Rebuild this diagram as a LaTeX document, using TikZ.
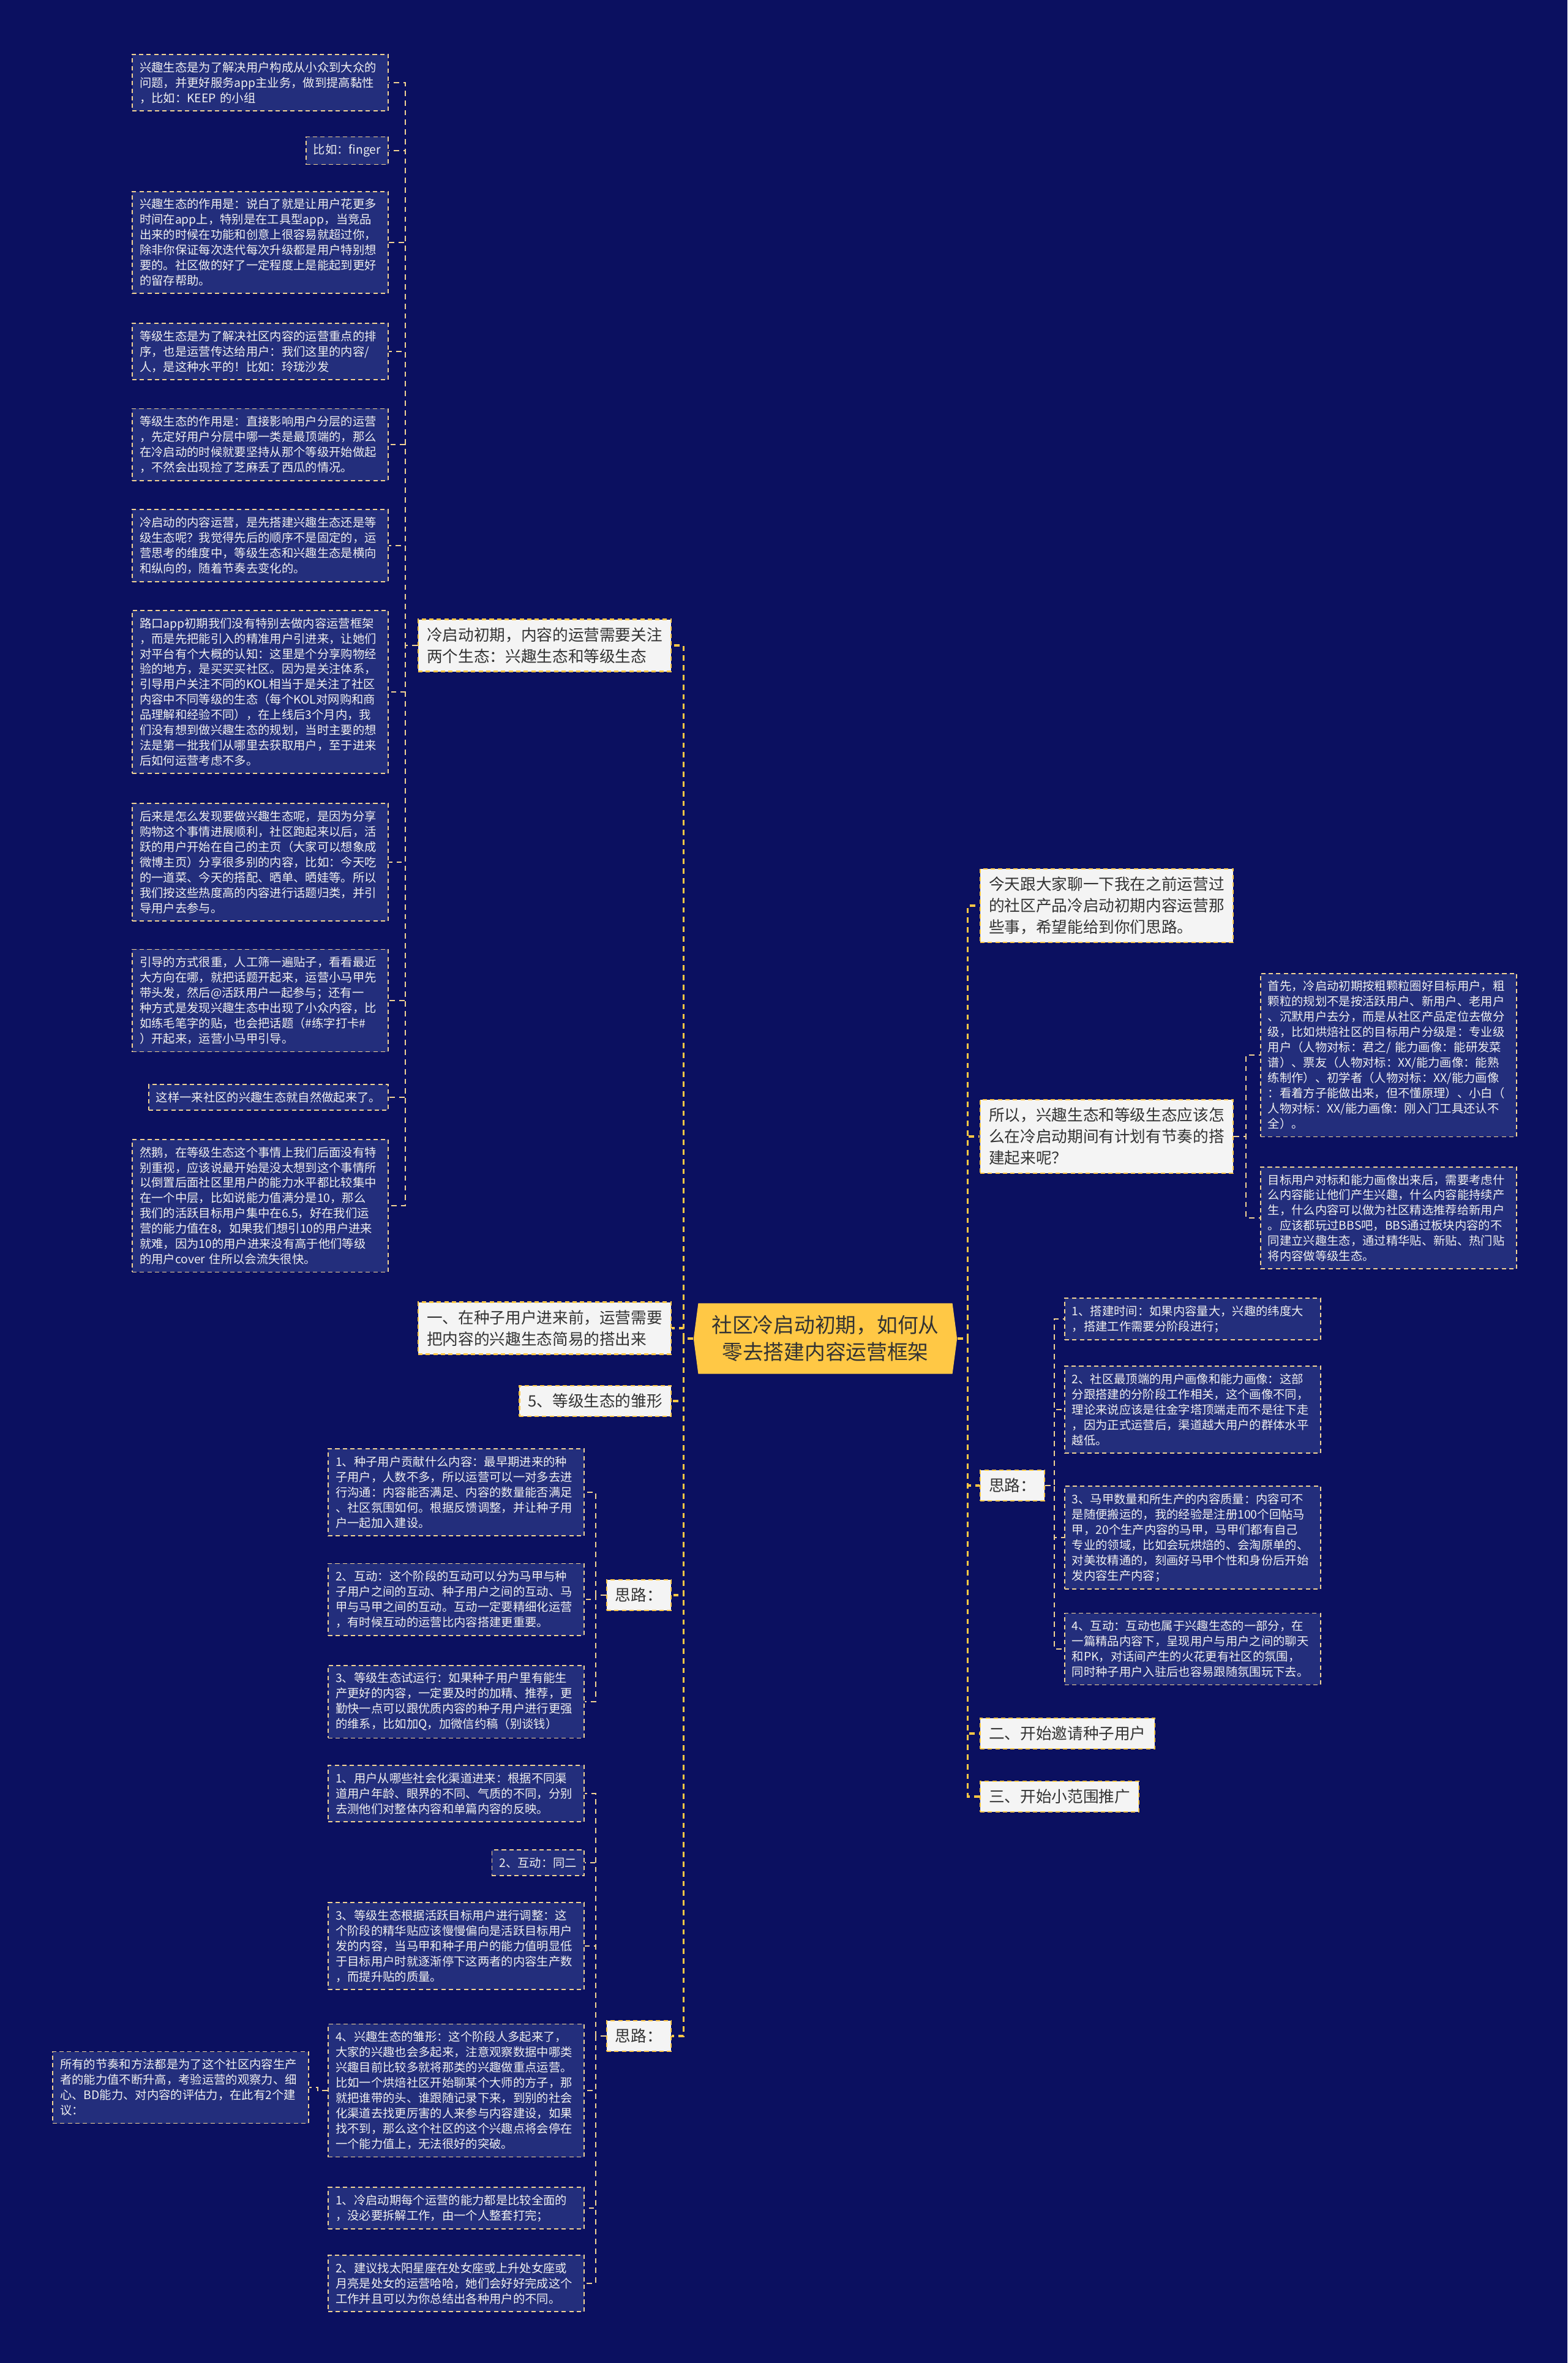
\documentclass[tikz,border=0pt]{standalone}
\usepackage{fontspec}
\setmainfont{Noto Sans CJK SC}
\usepackage{tikz}
\usetikzlibrary{shapes.symbols}
\definecolor{NightBlue}{HTML}{0B1060}
\definecolor{LeafBlue}{HTML}{232E7C}
\definecolor{Cream}{HTML}{F2D393}
\definecolor{Gold}{HTML}{FFC845}
\definecolor{Paper}{HTML}{F4F4F4}
\definecolor{Ink}{HTML}{333333}

\begin{document}
\begin{tikzpicture}[
  leaf/.style={draw=Cream, line width=0.5pt, dash pattern=on 2pt off 1.5pt, fill=LeafBlue, text=white!94!black, font=\fontsize{5.5}{7.1}\selectfont, align=left, inner xsep=0.12cm, inner ysep=0.12cm},
  wide/.style={leaf, text width=3.94cm},
  topic/.style={draw=Gold, line width=0.6pt, dash pattern=on 2pt off 1.5pt, fill=Paper, text=Ink, font=\fontsize{7.3}{10}\selectfont, align=left, inner xsep=0.14cm, inner ysep=0.13cm},
  root/.style={signal, signal to=east and west, signal pointer angle=165, fill=Gold, text=Ink, font=\fontsize{9.6}{12.5}\selectfont, align=center, inner xsep=0.22cm, inner ysep=0.2cm},
  link/.style={draw=Cream, line width=0.6pt, dash pattern=on 2.5pt off 2pt},
  trunk/.style={draw=Gold, line width=0.9pt, dash pattern=on 2.5pt off 2pt},
]
  \fill[NightBlue] (0,0) rectangle (25.6,-38.59);
  \useasboundingbox (0,0) rectangle (25.6,-38.59);

  % Root
  \node[root] (root) at (13.48,-21.86) {社区冷启动初期，如何从\\零去搭建内容运营框架};

  % Left branch
  \node[topic, anchor=east] (ecoL) at (10.97,-10.54) {冷启动初期，内容的运营需要关注\\两个生态：兴趣生态和等级生态};
  \node[topic, anchor=east] (seed) at (10.97,-21.69) {一、在种子用户进来前，运营需要\\把内容的兴趣生态简易的搭出来};
  \node[topic, anchor=east] (grade) at (10.97,-22.88) {5、等级生态的雏形};
  \node[topic, anchor=east] (ideaA) at (10.97,-26.05) {思路：};
  \node[topic, anchor=east] (ideaB) at (10.97,-33.25) {思路：};

  % Two ecologies
  \node[wide, anchor=east] (eco1) at (6.35,-1.35) {兴趣生态是为了解决用户构成从小众到大众的\\问题，并更好服务app主业务，做到提高黏性\\，比如：KEEP 的小组};
  \node[leaf, anchor=east] (eco2) at (6.35,-2.46) {比如：finger};
  \node[wide, anchor=east] (eco3) at (6.35,-3.96) {兴趣生态的作用是：说白了就是让用户花更多\\时间在app上，特别是在工具型app，当竞品\\出来的时候在功能和创意上很容易就超过你，\\除非你保证每次迭代每次升级都是用户特别想\\要的。社区做的好了一定程度上是能起到更好\\的留存帮助。};
  \node[wide, anchor=east] (eco4) at (6.35,-5.74) {等级生态是为了解决社区内容的运营重点的排\\序，也是运营传达给用户：我们这里的内容/\\人，是这种水平的！比如：玲珑沙发};
  \node[wide, anchor=east] (eco5) at (6.35,-7.26) {等级生态的作用是：直接影响用户分层的运营\\，先定好用户分层中哪一类是最顶端的，那么\\在冷启动的时候就要坚持从那个等级开始做起\\，不然会出现捡了芝麻丢了西瓜的情况。};
  \node[wide, anchor=east] (eco6) at (6.35,-8.91) {冷启动的内容运营，是先搭建兴趣生态还是等\\级生态呢？我觉得先后的顺序不是固定的，运\\营思考的维度中，等级生态和兴趣生态是横向\\和纵向的，随着节奏去变化的。};
  \node[wide, anchor=east] (eco7) at (6.35,-11.30) {路口app初期我们没有特别去做内容运营框架\\，而是先把能引入的精准用户引进来，让她们\\对平台有个大概的认知：这里是个分享购物经\\验的地方，是买买买社区。因为是关注体系，\\引导用户关注不同的KOL相当于是关注了社区\\内容中不同等级的生态（每个KOL对网购和商\\品理解和经验不同），在上线后3个月内，我\\们没有想到做兴趣生态的规划，当时主要的想\\法是第一批我们从哪里去获取用户，至于进来\\后如何运营考虑不多。};
  \node[wide, anchor=east] (eco8) at (6.35,-14.08) {后来是怎么发现要做兴趣生态呢，是因为分享\\购物这个事情进展顺利，社区跑起来以后，活\\跃的用户开始在自己的主页（大家可以想象成\\微博主页）分享很多别的内容，比如：今天吃\\的一道菜、今天的搭配、晒单、晒娃等。所以\\我们按这些热度高的内容进行话题归类，并引\\导用户去参与。};
  \node[wide, anchor=east] (eco9) at (6.35,-16.34) {引导的方式很重，人工筛一遍贴子，看看最近\\大方向在哪，就把话题开起来，运营小马甲先\\带头发，然后@活跃用户一起参与；还有一\\种方式是发现兴趣生态中出现了小众内容，比\\如练毛笔字的贴，也会把话题（\#练字打卡\#\\）开起来，运营小马甲引导。};
  \node[leaf, anchor=east] (eco10) at (6.35,-17.92) {这样一来社区的兴趣生态就自然做起来了。};
  \node[wide, anchor=east] (eco11) at (6.35,-19.69) {然鹅，在等级生态这个事情上我们后面没有特\\别重视，应该说最开始是没太想到这个事情所\\以倒置后面社区里用户的能力水平都比较集中\\在一个中层，比如说能力值满分是10，那么\\我们的活跃目标用户集中在6.5，好在我们运\\营的能力值在8，如果我们想引10的用户进来\\就难，因为10的用户进来没有高于他们等级\\的用户cover 住所以会流失很快。};

  % Seed users
  \node[wide, anchor=east] (seed1) at (9.55,-24.37) {1、种子用户贡献什么内容：最早期进来的种\\子用户，人数不多，所以运营可以一对多去进\\行沟通：内容能否满足、内容的数量能否满足\\、社区氛围如何。根据反馈调整，并让种子用\\户一起加入建设。};
  \node[wide, anchor=east] (seed2) at (9.55,-26.12) {2、互动：这个阶段的互动可以分为马甲与种\\子用户之间的互动、种子用户之间的互动、马\\甲与马甲之间的互动。互动一定要精细化运营\\，有时候互动的运营比内容搭建更重要。};
  \node[wide, anchor=east] (seed3) at (9.55,-27.79) {3、等级生态试运行：如果种子用户里有能生\\产更好的内容，一定要及时的加精、推荐，更\\勤快一点可以跟优质内容的种子用户进行更强\\的维系，比如加Q，加微信约稿（别谈钱）};

  % Small-scale push
  \node[wide, anchor=east] (push1) at (9.55,-29.29) {1、用户从哪些社会化渠道进来：根据不同渠\\道用户年龄、眼界的不同、气质的不同，分别\\去测他们对整体内容和单篇内容的反映。};
  \node[leaf, anchor=east] (push2) at (9.55,-30.42) {2、互动：同二};
  \node[wide, anchor=east] (push3) at (9.55,-31.78) {3、等级生态根据活跃目标用户进行调整：这\\个阶段的精华贴应该慢慢偏向是活跃目标用户\\发的内容，当马甲和种子用户的能力值明显低\\于目标用户时就逐渐停下这两者的内容生产数\\，而提升贴的质量。};
  \node[wide, anchor=east] (push4) at (9.55,-34.14) {4、兴趣生态的雏形：这个阶段人多起来了，\\大家的兴趣也会多起来，注意观察数据中哪类\\兴趣目前比较多就将那类的兴趣做重点运营。\\比如一个烘焙社区开始聊某个大师的方子，那\\就把谁带的头、谁跟随记录下来，到别的社会\\化渠道去找更厉害的人来参与内容建设，如果\\找不到，那么这个社区的这个兴趣点将会停在\\一个能力值上，无法很好的突破。};
  \node[wide, anchor=east] (push5) at (9.55,-36.06) {1、冷启动期每个运营的能力都是比较全面的\\，没必要拆解工作，由一个人整套打完；};
  \node[wide, anchor=east] (push6) at (9.55,-37.29) {2、建议找太阳星座在处女座或上升处女座或\\月亮是处女的运营哈哈，她们会好好完成这个\\工作并且可以为你总结出各种用户的不同。};
  \node[wide, anchor=east] (note) at (5.05,-34.09) {所有的节奏和方法都是为了这个社区内容生产\\者的能力值不断升高，考验运营的观察力、细\\心、BD能力、对内容的评估力，在此有2个建\\议：};

  % Right branch
  \node[topic, anchor=west] (intro) at (16.00,-14.79) {今天跟大家聊一下我在之前运营过\\的社区产品冷启动初期内容运营那\\些事，希望能给到你们思路。};
  \node[topic, anchor=west] (ask) at (16.00,-18.56) {所以，兴趣生态和等级生态应该怎\\么在冷启动期间有计划有节奏的搭\\建起来呢？};
  \node[topic, anchor=west] (ideaR) at (16.00,-24.26) {思路：};
  \node[topic, anchor=west] (invite) at (16.00,-28.31) {二、开始邀请种子用户};
  \node[topic, anchor=west] (promote) at (16.00,-29.34) {三、开始小范围推广};

  \node[wide, anchor=west] (ask1) at (20.58,-17.23) {首先，冷启动初期按粗颗粒圈好目标用户，粗\\颗粒的规划不是按活跃用户、新用户、老用户\\、沉默用户去分，而是从社区产品定位去做分\\级，比如烘焙社区的目标用户分级是：专业级\\用户（人物对标：君之/ 能力画像：能研发菜\\谱）、票友（人物对标：XX/能力画像：能熟\\练制作）、初学者（人物对标：XX/能力画像\\：看着方子能做出来，但不懂原理）、小白（\\人物对标：XX/能力画像：刚入门工具还认不\\全）。};
  \node[wide, anchor=west] (ask2) at (20.58,-19.89) {目标用户对标和能力画像出来后，需要考虑什\\么内容能让他们产生兴趣，什么内容能持续产\\生，什么内容可以做为社区精选推荐给新用户\\。应该都玩过BBS吧，BBS通过板块内容的不\\同建立兴趣生态，通过精华贴、新贴、热门贴\\将内容做等级生态。};

  \node[wide, anchor=west] (idea1) at (17.38,-21.54) {1、搭建时间：如果内容量大，兴趣的纬度大\\，搭建工作需要分阶段进行；};
  \node[wide, anchor=west] (idea2) at (17.38,-23.02) {2、社区最顶端的用户画像和能力画像：这部\\分跟搭建的分阶段工作相关，这个画像不同，\\理论来说应该是往金字塔顶端走而不是往下走\\，因为正式运营后，渠道越大用户的群体水平\\越低。};
  \node[wide, anchor=west] (idea3) at (17.38,-25.11) {3、马甲数量和所生产的内容质量：内容可不\\是随便搬运的，我的经验是注册100个回帖马\\甲，20个生产内容的马甲，马甲们都有自己\\专业的领域，比如会玩烘焙的、会淘原单的、\\对美妆精通的，刻画好马甲个性和身份后开始\\发内容生产内容；};
  \node[wide, anchor=west] (idea4) at (17.38,-26.93) {4、互动：互动也属于兴趣生态的一部分，在\\一篇精品内容下，呈现用户与用户之间的聊天\\和PK，对话间产生的火花更有社区的氛围，\\同时种子用户入驻后也容易跟随氛围玩下去。};

  % Connectors
  \foreach \n in {ecoL,seed,grade,ideaA,ideaB}
    \draw[trunk] (root.west) -- ++(-0.16,0) |- (\n.east);
  \foreach \n in {intro,ask,ideaR,invite,promote}
    \draw[trunk] (root.east) -- ++(0.17,0) |- (\n.west);
  \foreach \i in {1,...,11}
    \draw[link] (ecoL.west) -- ++(-0.2,0) |- (eco\i.east);
  \foreach \i in {1,2,3}
    \draw[link] (ideaA.west) -- ++(-0.17,0) |- (seed\i.east);
  \foreach \i in {1,...,6}
    \draw[link] (ideaB.west) -- ++(-0.17,0) |- (push\i.east);
  \draw[link] (push4.west) -- ++(-0.16,0) |- (note.east);
  \foreach \i in {1,2}
    \draw[link] (ask.east) -- ++(0.2,0) |- (ask\i.west);
  \foreach \i in {1,...,4}
    \draw[link] (ideaR.east) -- ++(0.15,0) |- (idea\i.west);
\end{tikzpicture}
\end{document}
